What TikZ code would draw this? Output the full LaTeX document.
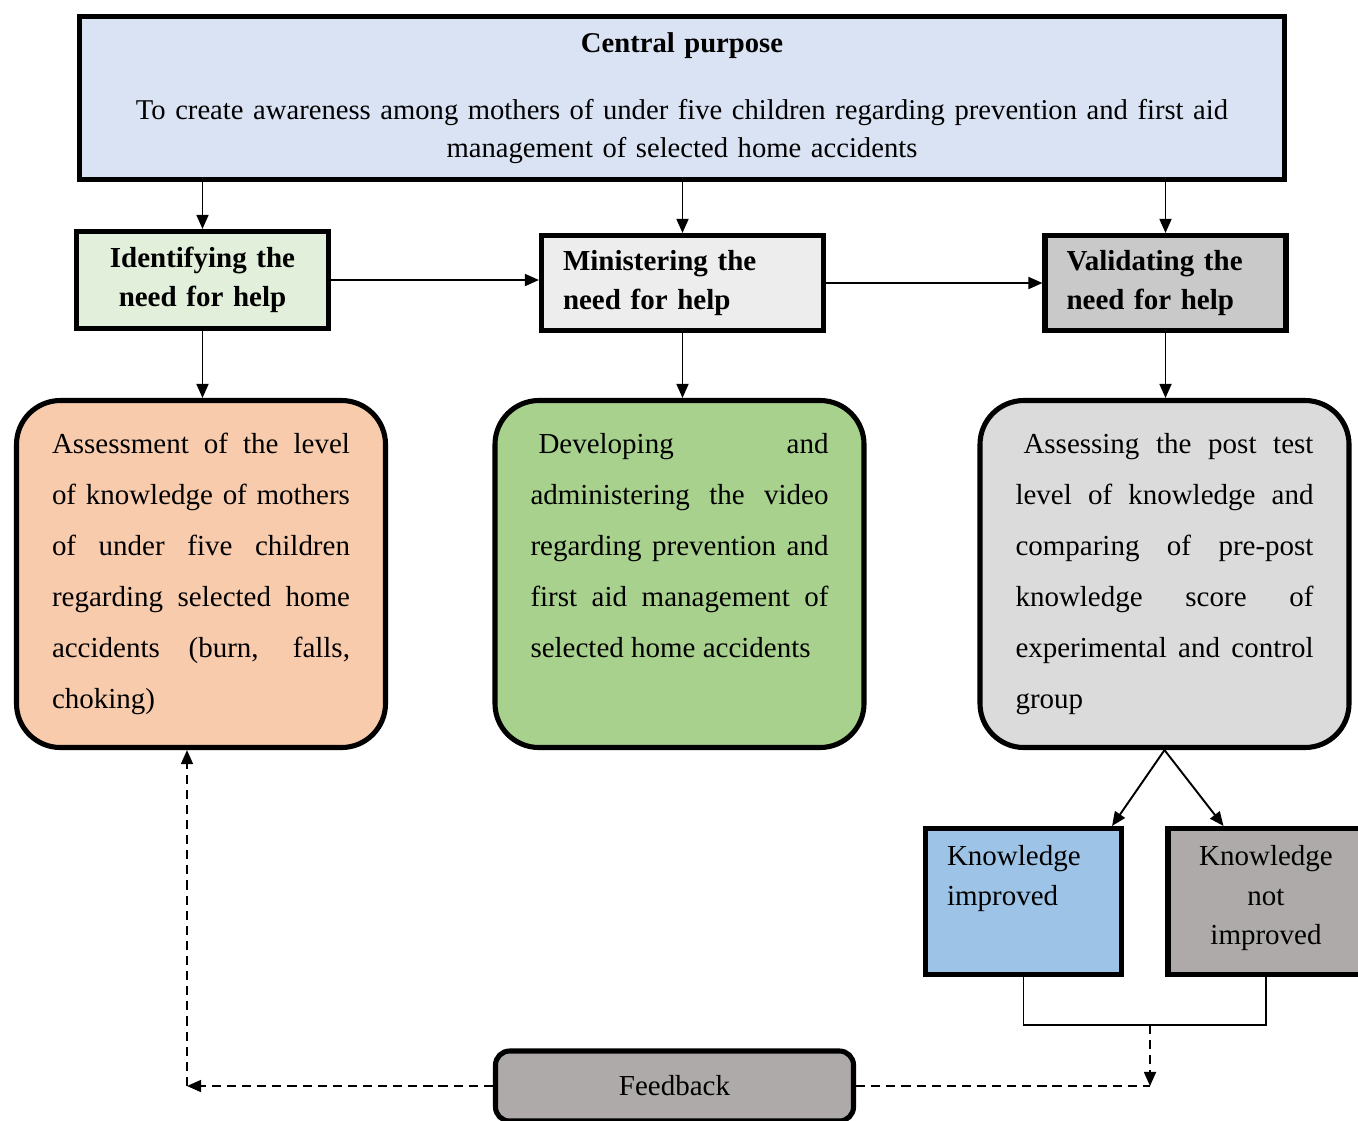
\documentclass[tikz,border=0pt]{standalone}
\usepackage{fontspec}
\setmainfont{Liberation Serif}
\usetikzlibrary{arrows.meta}

\newlength{\unitpx}
\setlength{\unitpx}{0.02cm}

\definecolor{purposeblue}{HTML}{DAE3F3}
\definecolor{identgreen}{HTML}{E2EFDA}
\definecolor{ministergray}{HTML}{EDEDED}
\definecolor{validgray}{HTML}{C9C9C9}
\definecolor{assesspeach}{HTML}{F8CBAD}
\definecolor{developgreen}{HTML}{A9D18E}
\definecolor{postgray}{HTML}{DBDBDB}
\definecolor{improvedblue}{HTML}{9DC3E6}
\definecolor{notgray}{HTML}{AEAAAA}

% text set from the top of a box, lines spread to full width
\newcommand{\toptext}[2]{\parbox[c][#1][t]{\hsize}{\hyphenpenalty=10000 \exhyphenpenalty=10000
  \spaceskip=0.25em plus 1fill \parfillskip=0pt plus 1filll #2}}

\tikzset{
  box/.style={draw, line width=2.9pt, rectangle, inner sep=0pt},
  stage/.style={box, inner xsep=21.5\unitpx, font=\fontsize{16.5}{22.2}\selectfont\bfseries},
  roundbox/.style={box, rounded corners=25pt, minimum width=369\unitpx, minimum height=347\unitpx,
    text width=298\unitpx, inner xsep=20\unitpx, inner ysep=33\unitpx, font=\fontsize{16.5}{29}\selectfont},
  resultbox/.style={box, minimum width=196\unitpx, minimum height=146\unitpx, text width=153\unitpx,
    inner xsep=21.5\unitpx, inner ysep=17\unitpx, font=\fontsize{16.5}{22.5}\selectfont},
  link/.style={->, line width=1.1pt},
  feed/.style={line width=1.1pt, dash pattern=on 5.2pt off 3.4pt},
}

\begin{document}
\begin{tikzpicture}[x=0.02cm, y=-0.02cm, >={Triangle[length=8pt,width=6.8pt]}]
  \clip (0,0) rectangle (1358,1120);

  \node[box, fill=purposeblue, minimum width=1205\unitpx, minimum height=163\unitpx, text width=1150\unitpx,
    align=center, font=\fontsize{16.3}{21.6}\selectfont] (central) at (682,98)
    {\textbf{Central purpose}\\[16.4pt]
     To create awareness among mothers of under five children regarding prevention and first aid\\
     management of selected home accidents};

  % the three stages
  \node[stage, fill=identgreen, minimum width=252\unitpx, minimum height=97\unitpx, text width=205\unitpx,
    align=center] (identify) at (202.5,280) {Identifying the\\ need for help};
  \node[stage, fill=ministergray, minimum width=282\unitpx, minimum height=95\unitpx, text width=239\unitpx,
    align=left] (minister) at (682.5,283) {Ministering the\\ need for help};
  \node[stage, fill=validgray, minimum width=241\unitpx, minimum height=95\unitpx, text width=198\unitpx,
    align=left] (validate) at (1165.5,283) {Validating the\\ need for help};

  \node[roundbox, fill=assesspeach] (assess) at (201,574) {\toptext{281\unitpx}{Assessment of the level\linebreak
    of knowledge of mothers\linebreak of under five children\linebreak regarding selected home\linebreak
    accidents (burn, falls,\linebreak choking)}};
  \node[roundbox, fill=developgreen] (develop) at (679.5,574) {\toptext{281\unitpx}{\hspace*{8\unitpx}Developing and\linebreak
    administering the video\linebreak regarding prevention and\linebreak first aid management of\linebreak
    selected home accidents}};
  \node[roundbox, fill=postgray] (posttest) at (1164.5,574) {\toptext{281\unitpx}{\hspace*{8\unitpx}Assessing the post test\linebreak
    level of knowledge and\linebreak comparing of pre-post\linebreak knowledge score of\linebreak
    experimental and control\linebreak group}};

  \node[resultbox, fill=improvedblue] (improved) at (1023.5,901.5) {\toptext{112\unitpx}{Knowledge\\ improved}};
  \node[resultbox, fill=notgray] (notimproved) at (1266,901.5)
    {\toptext{112\unitpx}{\centering Knowledge\\ not\\ improved}};

  \node[box, fill=notgray, rounded corners=8pt, minimum width=358\unitpx, minimum height=70\unitpx,
    font=\fontsize{16.5}{20}\selectfont] (feedback) at (674.5,1086) {Feedback};

  \draw[link] (central.south -| identify.north) -- (identify.north);
  \draw[link] (central.south -| minister.north) -- (minister.north);
  \draw[link] (central.south -| validate.north) -- (validate.north);
  \draw[link] (identify.east) -- (minister.west |- identify.east);
  \draw[link] (minister.east) -- (validate.west);
  \draw[link] (identify.south) -- (identify.south |- assess.north);
  \draw[link] (minister.south) -- (minister.south |- develop.north);
  \draw[link] (validate.south) -- (validate.south |- posttest.north);
  \draw[link] (posttest.south) -- ([xshift=-12\unitpx]improved.north east);
  \draw[link] (posttest.south) -- ([xshift=58\unitpx]notimproved.north west);

  % feedback loop
  \coordinate (merge) at (1150,1025);
  \coordinate (fbcorner) at (merge |- feedback.east);
  \coordinate (fbturn) at (187,1086);
  \draw[line width=0.7pt] (improved.south) |- (merge) -| (notimproved.south);
  \draw[feed,->] (merge) -- (fbcorner);
  \draw[feed] (feedback.east) -- (fbcorner);
  \draw[feed,->] (feedback.west) -- (fbturn);
  \draw[feed,->] (fbturn) -- (fbturn |- assess.south);
\end{tikzpicture}
\end{document}
